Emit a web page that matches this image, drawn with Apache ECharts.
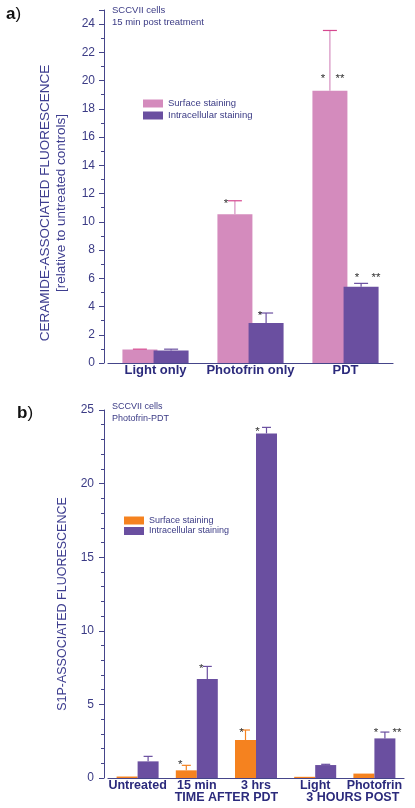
<!DOCTYPE html>
<html>
<head>
<meta charset="utf-8">
<script src="https://cdn.jsdelivr.net/npm/echarts@6/dist/echarts.min.js"></script>
<style>
html,body{margin:0;padding:0;background:#fff;}
#chart{width:415px;height:808px;}
</style>
</head>
<body>
<div id="chart"></div>
<script>
// ---------- Panel a data ----------
const catsA = ['Light only', 'Photofrin only', 'PDT'];
const surfA = [0.95, 10.53, 19.28];
const surfErrA = [0.03, 0.96, 4.27];
const intraA = [0.88, 2.83, 5.40];
const intraErrA = [0.10, 0.71, 0.24];
const yTicksA = [0, 25, 2];            // min, max, label interval
// significance marks: [category, series(0 surface / 1 intracellular), level, text]
const starsA = [[1, 0, 11.43, '*'], [1, 1, 3.55, '*'], [2, 0, 20.27, '*'], [2, 0, 20.27, '**'], [2, 1, 6.18, '*'], [2, 1, 6.18, '**']];

// ---------- Panel b data ----------
const catsB = ['Untreated', '15 min', '3 hrs', 'Light', 'Photofrin'];
const surfB = [0.10, 0.52, 2.58, 0.08, 0.30];
const surfErrB = [0, 0.34, 0.68, 0, 0];
const intraB = [1.13, 6.72, 23.41, 0.88, 2.69];
const intraErrB = [0.34, 0.86, 0.41, 0.05, 0.43];
const yTicksB = [0, 25, 5];
const groupsB = [['TIME AFTER PDT', 1, 2], ['3 HOURS POST', 3, 4]];
const starsB = [[1, 0, 1.09, '*'], [1, 1, 7.58, '*'], [2, 0, 3.23, '*'], [2, 1, 23.7, '*'], [4, 1, 3.23, '*'], [4, 1, 3.23, '**']];

// ---------- styling ----------
const PINK = '#d48bbd', PINK_CAP = '#d6478f', PURPLE = '#6a4fa0', ORANGE = '#f5821f';
const AXIS = '#45458a', TXT = '#3b3b85', LBL = '#2b2a7c';
const starDxA = [-9, -6, -7, 10, -4, 15];
const starDxB = [-6, -6, -4, -9, -9, 12];
const groupNudgeB = [0, 8];
const offA = 15.6, offB = 10.5;

const chart = echarts.init(document.getElementById('chart'), null, {renderer: 'canvas'});

function errSeries(name, xi, yi, vals, errs, off, lineColor, capColor, capW) {
  return {
    type: 'custom', name: name, xAxisIndex: xi, yAxisIndex: yi, z: 5, silent: true,
    data: vals.map((v, i) => [i, v, errs[i]]),
    encode: {x: 0, y: 1},
    renderItem: function (params, api) {
      const i = api.value(0), v = api.value(1), e = api.value(2);
      if (!e) return null;
      const p0 = api.coord([i, v]), p1 = api.coord([i, v + e]);
      const x = p0[0] + off;
      return {type: 'group', children: [
        {type: 'line', shape: {x1: x, y1: p0[1], x2: x, y2: p1[1]}, style: {stroke: lineColor, lineWidth: 1.2}},
        {type: 'line', shape: {x1: x - capW / 2, y1: p1[1], x2: x + capW / 2, y2: p1[1]}, style: {stroke: capColor, lineWidth: 1.2}}
      ]};
    }
  };
}
function starSeries(xi, yi, stars, dxs, off) {
  return {
    type: 'custom', xAxisIndex: xi, yAxisIndex: yi, z: 6, silent: true,
    data: stars.map(s => [s[0], s[2], s[1]]),
    encode: {x: 0, y: 1},
    renderItem: function (params, api) {
      const i = params.dataIndex;
      const s = stars[i];
      const p = api.coord([s[0], s[2]]);
      const x = p[0] + (s[1] === 0 ? -off : off) + dxs[i];
      return {type: 'text', x: x, y: p[1] + 2.5, style: {text: s[3], fill: '#333', fontSize: 11.5, fontFamily: 'Liberation Sans', align: 'center', verticalAlign: 'middle'}};
    }
  };
}
function yAxis(gi, t, margin, minorSplit) {
  return {
    type: 'value', gridIndex: gi, min: t[0], max: t[1], interval: t[2], offset: 4,
    axisLine: {show: true, lineStyle: {color: AXIS, width: 1}},
    axisTick: {show: true, length: 5, lineStyle: {color: AXIS}},
    minorTick: {show: true, splitNumber: minorSplit, length: 3, lineStyle: {color: AXIS}},
    splitLine: {show: false},
    axisLabel: {color: TXT, fontSize: 12, fontFamily: 'Liberation Sans', margin: margin, showMaxLabel: t[1] % t[2] === 0}
  };
}
function xAxis(gi, cats, size) {
  return {
    type: 'category', gridIndex: gi, data: cats,
    axisLine: {show: true, lineStyle: {color: AXIS, width: 1.2}},
    axisTick: {show: false},
    axisLabel: {color: LBL, fontSize: size, fontWeight: 'bold', fontFamily: 'Liberation Sans', margin: 1, interval: 0}
  };
}

const option = {
  animation: false,
  grid: [
    {left: 108, top: 10, width: 285, height: 353},
    {left: 108, top: 410, width: 296, height: 368}
  ],
  xAxis: [xAxis(0, catsA, 13), xAxis(1, catsB, 12.5)],
  yAxis: [yAxis(0, yTicksA, 9, 2), yAxis(1, yTicksB, 10, 5)],
  legend: [
    {data: ['Surface staining', 'Intracellular staining'], orient: 'vertical', left: 143, top: 98.5, padding: 0, itemWidth: 20, itemHeight: 8, itemGap: 2, icon: 'rect',
     textStyle: {color: TXT, fontSize: 9.5, fontFamily: 'Liberation Sans'}},
    {data: ['Surface staining (b)', 'Intracellular staining (b)'], orient: 'vertical', left: 124, top: 516, padding: 0, itemWidth: 20, itemHeight: 8, itemGap: 1.5, icon: 'rect',
     formatter: n => n.replace(' (b)', ''), textStyle: {color: TXT, fontSize: 9, fontFamily: 'Liberation Sans'}}
  ],
  series: [
    {type: 'bar', name: 'Surface staining', xAxisIndex: 0, yAxisIndex: 0, data: surfA, barWidth: 35, barGap: '-11%', itemStyle: {color: PINK}},
    {type: 'bar', name: 'Intracellular staining', xAxisIndex: 0, yAxisIndex: 0, data: intraA, barWidth: 35, barGap: '-11%', itemStyle: {color: PURPLE}},
    errSeries('ea1', 0, 0, surfA, surfErrA, -offA, '#d68fc0', PINK_CAP, 14),
    errSeries('ea2', 0, 0, intraA, intraErrA, offA, PURPLE, PURPLE, 14),
    starSeries(0, 0, starsA, starDxA, offA),
    {type: 'bar', name: 'Surface staining (b)', xAxisIndex: 1, yAxisIndex: 1, data: surfB, barWidth: 21, barGap: '0%', itemStyle: {color: ORANGE}},
    {type: 'bar', name: 'Intracellular staining (b)', xAxisIndex: 1, yAxisIndex: 1, data: intraB, barWidth: 21, barGap: '0%', itemStyle: {color: PURPLE}},
    errSeries('eb1', 1, 1, surfB, surfErrB, -offB, ORANGE, ORANGE, 9),
    errSeries('eb2', 1, 1, intraB, intraErrB, offB, PURPLE, PURPLE, 9),
    starSeries(1, 1, starsB, starDxB, offB)
  ]
};
chart.setOption(option);

// texts: panel letters, notes, axis names, group labels
const ff = 'Liberation Sans';
const g = [
  {type: 'text', left: 6, top: 6, style: {text: '{b|a}{p|)}', rich: {b: {fontSize: 17, fontWeight: 'bold', fill: '#111', fontFamily: ff}, p: {fontSize: 17, fill: '#111', fontFamily: ff}}}},
  {type: 'text', left: 17, top: 405, style: {text: '{b|b}{p|)}', rich: {b: {fontSize: 17, fontWeight: 'bold', fill: '#111', fontFamily: ff}, p: {fontSize: 17, fill: '#111', fontFamily: ff}}}},
  {type: 'text', x: 112, y: 10, style: {text: 'SCCVII cells', fill: TXT, fontSize: 9.5, fontFamily: ff, verticalAlign: 'middle'}},
  {type: 'text', x: 112, y: 22, style: {text: '15 min post treatment', fill: TXT, fontSize: 9.5, fontFamily: ff, verticalAlign: 'middle'}},
  {type: 'text', x: 112, y: 407, style: {text: 'SCCVII cells', fill: TXT, fontSize: 9, fontFamily: ff, verticalAlign: 'middle'}},
  {type: 'text', x: 112, y: 419, style: {text: 'Photofrin-PDT', fill: TXT, fontSize: 9, fontFamily: ff, verticalAlign: 'middle'}},
  {type: 'text', x: 45, y: 203, rotation: Math.PI / 2, style: {text: 'CERAMIDE-ASSOCIATED FLUORESCENCE', fill: '#3d3d8f', fontSize: 13.5, fontFamily: ff, align: 'center', verticalAlign: 'middle'}},
  {type: 'text', x: 61, y: 203, rotation: Math.PI / 2, style: {text: '[relative to untreated controls]', fill: '#3d3d8f', fontSize: 13.5, fontFamily: ff, align: 'center', verticalAlign: 'middle'}},
  {type: 'text', x: 63, y: 604, rotation: Math.PI / 2, style: {text: 'S1P-ASSOCIATED FLUORESCENCE', fill: '#3d3d8f', fontSize: 12.5, fontFamily: ff, align: 'center', verticalAlign: 'middle'}}
];
groupsB.forEach((gr, k) => {
  const x1 = chart.convertToPixel({xAxisIndex: 1}, gr[1]);
  const x2 = chart.convertToPixel({xAxisIndex: 1}, gr[2]);
  const y0 = chart.convertToPixel({yAxisIndex: 1}, 0);
  g.push({type: 'text', x: (x1 + x2) / 2 + groupNudgeB[k], y: y0 + 13, style: {text: gr[0], fill: LBL, fontSize: 12.5, fontWeight: 'bold', fontFamily: ff, align: 'center', verticalAlign: 'top'}});
});
chart.setOption({graphic: g});
</script>
</body>
</html>
